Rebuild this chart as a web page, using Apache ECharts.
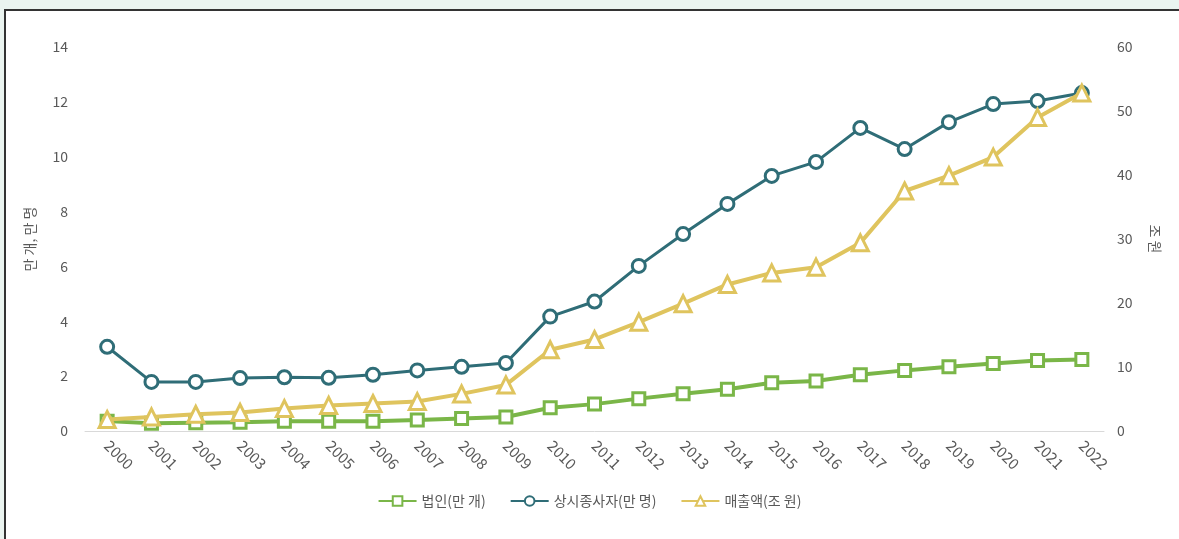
<!DOCTYPE html>
<html>
<head>
<meta charset="utf-8">
<script src="https://cdn.jsdelivr.net/npm/echarts@6/dist/echarts.min.js"></script>
<style>
  html, body { margin: 0; padding: 0; background: #eaf4f0; }
  .frame {
    position: absolute; left: 4px; top: 9px; right: 0; bottom: 0;
    background: #fff; border-left: 2px solid #333; border-top: 2px solid #333;
  }
  #chart { position: absolute; left: -6px; top: -11px; width: 1179px; height: 539px; }
</style>
</head>
<body>
<div class="frame"><div id="chart"></div></div>
<script>
var years = ['2000', '2001', '2002', '2003', '2004', '2005', '2006', '2007', '2008', '2009', '2010',
  '2011', '2012', '2013', '2014', '2015', '2016', '2017', '2018', '2019', '2020', '2021', '2022']
// 법인(만 개) - left axis
var corp = [0.36, 0.28, 0.30, 0.32, 0.36, 0.36, 0.36, 0.40, 0.46, 0.51, 0.85,
  0.98, 1.18, 1.36, 1.52, 1.76, 1.82, 2.05, 2.21, 2.34, 2.46, 2.57, 2.61]
// 상시종사자(만 명) - left axis
var workers = [3.07, 1.79, 1.79, 1.93, 1.96, 1.94, 2.05, 2.21, 2.34, 2.48, 4.17,
  4.72, 6.02, 7.18, 8.28, 9.30, 9.81, 11.05, 10.28, 11.26, 11.92, 12.03, 12.32]
// 매출액(조 원) - right axis
var sales = [1.8, 2.2, 2.6, 2.9, 3.5, 4.0, 4.3, 4.6, 5.8, 7.2, 12.7,
  14.3, 17.0, 19.9, 22.9, 24.7, 25.6, 29.4, 37.5, 39.9, 42.8, 49.0, 52.8]

var chartDom = document.getElementById('chart')
var myChart = echarts.init(chartDom)
var font = '"Noto Sans CJK KR", "Noto Sans", sans-serif'
var labelColor = '#595959'

var option = {
  animation: false,
  textStyle: { fontFamily: font },
  grid: { left: 85, right: 75, top: 47, bottom: 108 },
  legend: {
    bottom: 26,
    left: 'center',
    itemWidth: 38,
    itemHeight: 12,
    itemGap: 24,
    textStyle: { color: labelColor, fontSize: 14, fontFamily: font },
    data: ['법인(만 개)', '상시종사자(만 명)', '매출액(조 원)']
  },
  xAxis: {
    type: 'category',
    data: years,
    boundaryGap: true,
    axisLine: { lineStyle: { color: '#d9d9d9', width: 1 } },
    axisTick: { show: false },
    axisLabel: { rotate: -45, color: labelColor, fontSize: 15, margin: 12, interval: 0 }
  },
  yAxis: [
    {
      type: 'value',
      min: 0, max: 14, interval: 2,
      name: '만 개, 만 명',
      nameLocation: 'middle',
      nameRotate: 90,
      nameGap: 48,
      nameTextStyle: { color: labelColor, fontSize: 14 },
      splitLine: { show: false },
      axisLine: { show: false },
      axisTick: { show: false },
      axisLabel: { color: labelColor, fontSize: 14, margin: 17 }
    },
    {
      type: 'value',
      min: 0, max: 60, interval: 10,
      name: '조 원',
      nameLocation: 'middle',
      nameRotate: -90,
      nameGap: 44,
      nameTextStyle: { color: labelColor, fontSize: 14 },
      splitLine: { show: false },
      axisLine: { show: false },
      axisTick: { show: false },
      axisLabel: { color: labelColor, fontSize: 14, margin: 13 }
    }
  ],
  series: [
    {
      name: '법인(만 개)',
      type: 'line',
      yAxisIndex: 0,
      data: corp,
      symbol: 'rect',
      symbolSize: 12,
      lineStyle: { color: '#7ab648', width: 4 },
      itemStyle: { color: '#fff', borderColor: '#7ab648', borderWidth: 3 },
      z: 4
    },
    {
      name: '상시종사자(만 명)',
      type: 'line',
      yAxisIndex: 0,
      data: workers,
      symbol: 'circle',
      symbolSize: 13,
      lineStyle: { color: '#2f6d77', width: 3 },
      itemStyle: { color: '#fff', borderColor: '#2f6d77', borderWidth: 3 },
      z: 3
    },
    {
      name: '매출액(조 원)',
      type: 'line',
      yAxisIndex: 1,
      data: sales,
      symbol: 'triangle',
      symbolSize: 16,
      lineStyle: { color: '#dfc45e', width: 4 },
      itemStyle: { color: '#fff', borderColor: '#dfc45e', borderWidth: 3 },
      z: 5
    }
  ]
}

option && myChart.setOption(option)
</script>
</body>
</html>
